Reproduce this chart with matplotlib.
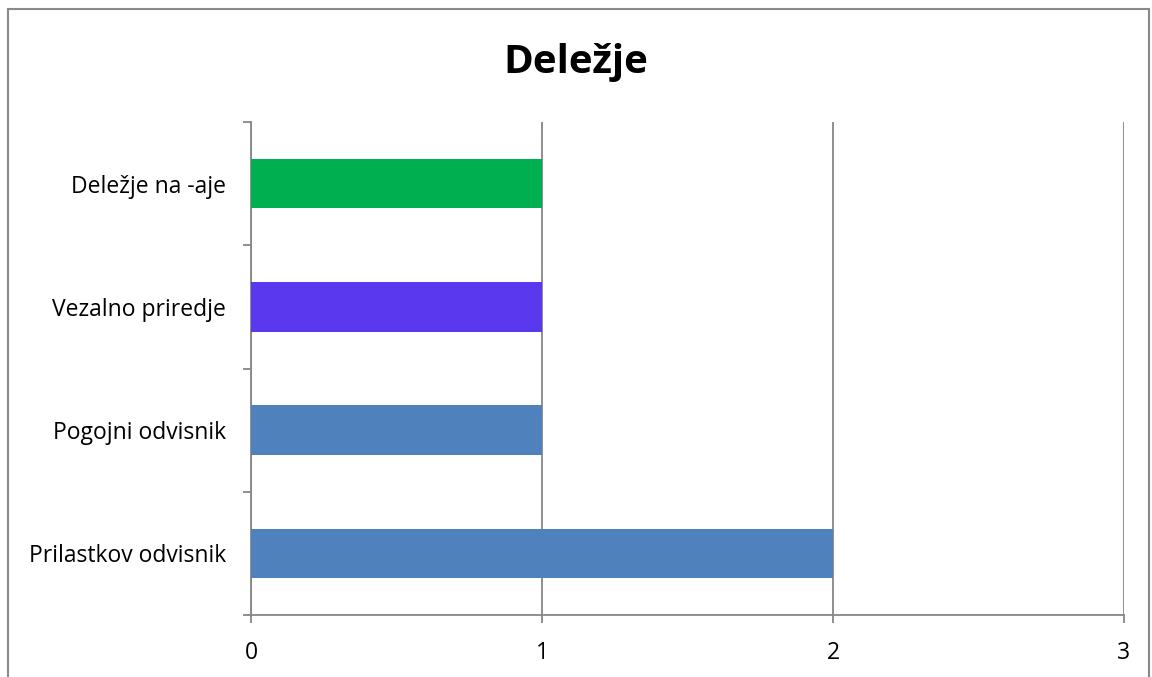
import matplotlib
matplotlib.use("Agg")
import matplotlib.pyplot as plt
from matplotlib.patches import Rectangle
import numpy as np

categories = ["Prilastkov odvisnik", "Pogojni odvisnik", "Vezalno priredje", "Deležje na -aje"]
values = [2, 1, 1, 1]
colors = ["#4F81BD", "#4F81BD", "#5A38EE", "#00B050"]
x_ticks = [0, 1, 2, 3]
title = "Deležje"

plt.rcParams['font.family'] = ['Open Sans', 'DejaVu Sans']

fig = plt.figure(figsize=(11.52, 6.77), dpi=100)
ax = fig.add_axes([251/1152, 1-615/677, (1124-251)/1152, (615-122)/677])

y = np.arange(len(categories))
ax.barh(y, values, height=0.4, color=colors, zorder=3)

ax.set_xlim(0, 3)
ax.set_ylim(-0.5, len(categories) - 0.5)
ax.set_xticks(x_ticks)
ax.set_xticklabels([str(t) for t in x_ticks], fontsize=16.5)
ax.set_yticks(y)
ax.set_yticklabels(categories, fontsize=16.5)
ax.set_yticks(np.arange(-0.5, len(categories)), minor=True)
ax.tick_params(axis='y', which='major', length=0, pad=18)
ax.tick_params(axis='y', which='minor', length=5.8, color='#868686', width=1.3)
ax.tick_params(axis='x', which='major', length=5.8, color='#868686', width=1.3, pad=13)

ax.grid(axis='x', color='#868686', linewidth=1.3, zorder=1)
for s in ['top', 'right']:
    ax.spines[s].set_visible(False)
for s in ['left', 'bottom']:
    ax.spines[s].set_color('#868686')
    ax.spines[s].set_linewidth(1.3)

fig.text(0.5, 1 - 63/677, title, ha='center', va='center', fontsize=29, fontweight='bold')

fig.patches.append(Rectangle((8/1152, -0.02), (1149-8)/1152, 1 - 9/677 + 0.02,
                             transform=fig.transFigure, fill=False,
                             edgecolor='#898989', linewidth=1.5))

fig.savefig("out.png", dpi=100)
